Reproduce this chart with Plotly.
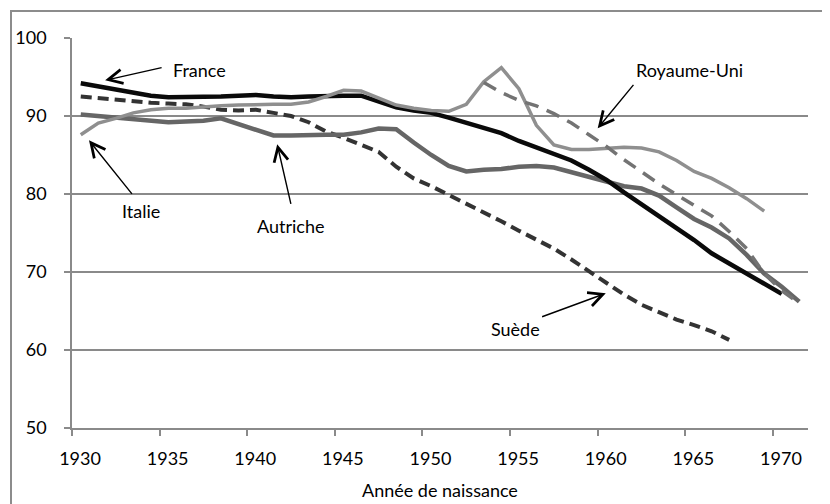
import plotly.graph_objects as go

years_full = [y + 0.5 for y in range(1930, 1972)]

france = [94.2, 93.8, 93.3, 92.9, 92.6, 92.4, 92.4, 92.5, 92.5, 92.6, 92.7,
          92.5, 92.4, 92.5, 92.6, 92.6, 92.6, 91.9, 91.1, 90.7, 90.4,
          89.8, 89.1, 88.4, 87.8, 86.8, 86.0, 85.2, 84.3, 83.1, 81.8,
          80.2, 78.7, 77.2, 75.6, 74.1, 72.4, 71.1, 69.9, 68.6, 67.2]

suede = [92.5, 92.3, 92.0, 91.8, 91.7, 91.6, 91.5, 91.2, 90.8, 90.7, 90.8,
         90.4, 90.0, 89.2, 88.0, 87.2, 86.3, 85.4, 83.5, 82.0, 81.0,
         79.9, 78.8, 77.7, 76.5, 75.3, 74.2, 73.0, 71.6, 70.1, 68.5,
         67.1, 65.8, 64.8, 63.9, 63.2, 62.4, 61.3]

autriche = [90.2, 90.0, 89.8, 89.6, 89.5, 89.2, 89.3, 89.4, 89.7, 89.0, 88.3,
            87.5, 87.5, 87.6, 87.6, 87.6, 87.9, 88.4, 88.3, 86.6, 85.0,
            83.6, 82.9, 83.1, 83.2, 83.5, 83.6, 83.4, 82.8, 82.2, 81.6,
            81.0, 80.7, 79.8, 78.3, 76.8, 75.7, 74.3, 72.2, 69.8, 68.1, 66.2]

italie = [87.6, 89.1, 89.7, 90.4, 90.8, 91.0, 91.0, 91.2, 91.3, 91.4, 91.5,
          91.5, 91.5, 91.8, 92.5, 93.3, 93.2, 92.3, 91.4, 91.0, 90.7,
          90.6, 91.5, 94.4, 96.2, 93.5, 88.8, 86.3, 85.7, 85.7, 85.8,
          86.0, 85.9, 85.4, 84.3, 82.9, 82.0, 80.8, 79.4, 77.8]

ru_years = [y + 0.5 for y in range(1953, 1972)]
royaume_uni = [94.3, 93.0, 92.0, 91.3, 90.3, 89.1, 87.6, 86.1, 84.4, 82.8,
               81.3, 79.9, 78.5, 77.2, 75.2, 73.0, 69.8, 67.6, 66.0]

x_ticks = [1930, 1935, 1940, 1945, 1950, 1955, 1960, 1965, 1970]
y_ticks = [50, 60, 70, 80, 90, 100]

FONT = "Lato"
GRID = "#8a8a8a"
BORDER_COLOR = "#8c8c8c"

fig = go.Figure()
# empty trace that carries the outer frame axes
fig.add_trace(go.Scatter(x=[], y=[], xaxis="x2", yaxis="y2", mode="lines",
                         hoverinfo="skip", showlegend=False))
fig.add_trace(go.Scatter(x=years_full[:len(suede)], y=suede, mode="lines",
                         line=dict(color="#333333", width=4, dash="11px,6px"), name="Suède"))
fig.add_trace(go.Scatter(x=years_full[:len(autriche)], y=autriche, mode="lines",
                         line=dict(color="#666666", width=4.5), name="Autriche"))
fig.add_trace(go.Scatter(x=years_full[:len(france)], y=france, mode="lines",
                         line=dict(color="#0a0a0a", width=4.5), name="France"))
fig.add_trace(go.Scatter(x=years_full[:len(italie)], y=italie, mode="lines",
                         line=dict(color="#8f8f8f", width=3.5), name="Italie"))
fig.add_trace(go.Scatter(x=ru_years, y=royaume_uni, mode="lines",
                         line=dict(color="#737373", width=3.5, dash="14px,9px"), name="Royaume-Uni"))

# labels with arrows: (text, text_x, text_y, tail_x, tail_y, head_x, head_y)
labels = [
    ("France", 1937.26, 95.86, 1935.2, 96.24, 1931.89, 94.58),
    ("Italie", 1933.94, 77.78, 1933.49, 79.83, 1930.97, 86.88),
    ("Autriche", 1942.46, 75.86, 1942.51, 78.55, 1941.71, 86.37),
    ("Royaume-Uni", 1965.26, 95.86, 1962.11, 94.19, 1960.0, 88.42),
    ("Suède", 1955.31, 62.65, 1956.74, 64.19, 1960.46, 67.27),
]
annotations = []
for txt, tx, ty, ax_, ay_, hx, hy in labels:
    annotations.append(dict(x=hx, y=hy, ax=ax_, ay=ay_, xref="x", yref="y",
                            axref="x", ayref="y", text="", showarrow=True,
                            arrowhead=5, arrowsize=2.0, arrowwidth=1.4,
                            arrowcolor="black"))
    annotations.append(dict(x=tx, y=ty, xref="x", yref="y", text=txt,
                            showarrow=False, font=dict(family=FONT, size=18, color="black"),
                            xanchor="center", yanchor="middle"))

annotations.append(dict(x=(440 - 12) / 818, y=(504 - 490) / 492, xref="paper", yref="paper",
                        text="Année de naissance", showarrow=False,
                        font=dict(family=FONT, size=18, color="black"),
                        xanchor="center", yanchor="middle"))

fig.update_layout(
    width=822, height=496,
    margin=dict(l=4, r=0, t=4, b=0, autoexpand=False),
    paper_bgcolor="white", plot_bgcolor="rgba(0,0,0,0)",
    showlegend=False,
    font=dict(family=FONT, size=18, color="black"),
    annotations=annotations,
    xaxis=dict(domain=[(72 - 12) / 818, (808 - 12) / 818],
               range=[1930, 1972], tickvals=x_ticks, ticktext=[str(v) for v in x_ticks],
               ticklabelshift=8,
               showgrid=False, zeroline=False, showline=True, linecolor=GRID, linewidth=1.5,
               ticks="outside", ticklen=6, tickwidth=1.5, tickcolor=GRID,
               ticklabelstandoff=8, tickfont=dict(family=FONT, size=18)),
    yaxis=dict(domain=[76 / 492, (492 - 26) / 492],
               range=[50, 100], tickvals=y_ticks, ticktext=[str(v) for v in y_ticks],
               showgrid=True, gridcolor=GRID, gridwidth=1.5, zeroline=False,
               showline=True, linecolor=GRID, linewidth=1.5,
               ticks="outside", ticklen=6, tickwidth=1.5, tickcolor=GRID,
               ticklabelstandoff=14, tickfont=dict(family=FONT, size=18)),
    xaxis2=dict(domain=[0, 1], anchor="y2", range=[0, 1], showline=True, mirror=True,
                linecolor=BORDER_COLOR, linewidth=1.5, showgrid=False, zeroline=False,
                showticklabels=False, ticks=""),
    yaxis2=dict(domain=[0, 1], anchor="x2", range=[0, 1], showline=True, mirror=True,
                linecolor=BORDER_COLOR, linewidth=1.5, showgrid=False, zeroline=False,
                showticklabels=False, ticks=""),
)

fig.write_html("out.html")
